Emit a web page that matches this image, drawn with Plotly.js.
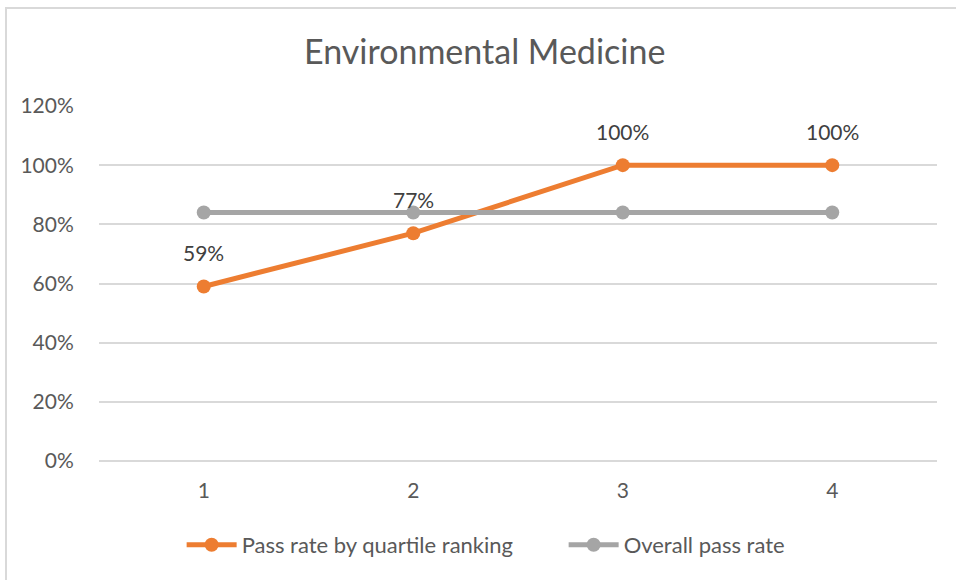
<!DOCTYPE html>
<html>
<head>
<meta charset="utf-8">
<script src="https://cdn.plot.ly/plotly-3.0.1.min.js"></script>
<style>
html,body{margin:0;padding:0;background:#fff;}
#wrap{position:absolute;left:0;top:0;width:956px;height:580px;overflow:hidden;}
#frame{position:absolute;left:5px;top:7px;width:980px;height:600px;border-left:2px solid #d9d9d9;border-top:2px solid #d9d9d9;pointer-events:none;}
#chart{position:absolute;left:0;top:0;width:956px;height:580px;}
</style>
</head>
<body>
<div id="wrap">
<div id="chart"></div>
<div id="frame"></div>
</div>
<script>
const chartTitle = "Environmental Medicine";
const categories = ["1", "2", "3", "4"];
const seriesNames = ["Pass rate by quartile ranking", "Overall pass rate"];
const passRateByQuartile = [0.59, 0.77, 1.00, 1.00];
const overallPassRate = [0.84, 0.84, 0.84, 0.84];
const yTickValues = [0, 0.2, 0.4, 0.6, 0.8, 1.0, 1.2];

const FONT = "Lato, 'Open Sans', sans-serif";
const TXT = "#595959";
const ORANGE = "#ED7D31";
const GRAY = "#A5A5A5";

const traces = [
  {
    type: "scatter", mode: "lines+markers", name: seriesNames[0],
    x: categories, y: passRateByQuartile,
    line: {color: ORANGE, width: 5},
    marker: {color: ORANGE, size: 14},
    hoverinfo: "none"
  },
  {
    type: "scatter", mode: "lines+markers", name: seriesNames[1],
    x: categories, y: overallPassRate,
    line: {color: GRAY, width: 5},
    marker: {color: GRAY, size: 14},
    hoverinfo: "none"
  }
];

const annotations = categories.map((c, i) => ({
  x: i, y: passRateByQuartile[i], xref: "x", yref: "y",
  text: Math.round(passRateByQuartile[i] * 100) + "%",
  showarrow: false, yshift: 34,
  font: {family: FONT, size: 21, color: "#404040"}
}));

const layout = {
  width: 956, height: 580,
  paper_bgcolor: "#fff", plot_bgcolor: "#fff",
  margin: {l: 99, r: 19, t: 106, b: 119},
  font: {family: FONT, color: TXT, size: 21},
  title: {text: chartTitle, font: {family: FONT, size: 34, color: TXT},
          x: 0.507, xanchor: "center", y: 1 - 52/580, yanchor: "middle", yref: "container"},
  xaxis: {type: "category", categoryorder: "array", categoryarray: categories,
          range: [-0.5, 3.5], showgrid: false, zeroline: false, showline: false,
          ticks: "outside", ticklen: 11, tickcolor: "rgba(0,0,0,0)",
          tickfont: {family: FONT, size: 21, color: TXT}, fixedrange: true},
  yaxis: {range: [0, 1.2], tickvals: yTickValues, tickformat: ".0%",
          showgrid: true, gridcolor: "#D9D9D9", gridwidth: 2,
          zeroline: true, zerolinecolor: "#D9D9D9", zerolinewidth: 2, showline: false,
          ticks: "outside", ticklen: 20, tickcolor: "rgba(0,0,0,0)",
          tickfont: {family: FONT, size: 21, color: TXT}, fixedrange: true},
  showlegend: true,
  legend: {orientation: "h", xref: "container", yref: "container",
           x: 0.19, xanchor: "left", y: 1 - 545/580, yanchor: "middle",
           font: {family: FONT, size: 22, color: TXT}, itemwidth: 50,
           entrywidth: 317, entrywidthmode: "pixels", traceorder: "normal"},
  annotations: annotations
};

Plotly.newPlot("chart", traces, layout, {staticPlot: true, displayModeBar: false});
</script>
</body>
</html>
